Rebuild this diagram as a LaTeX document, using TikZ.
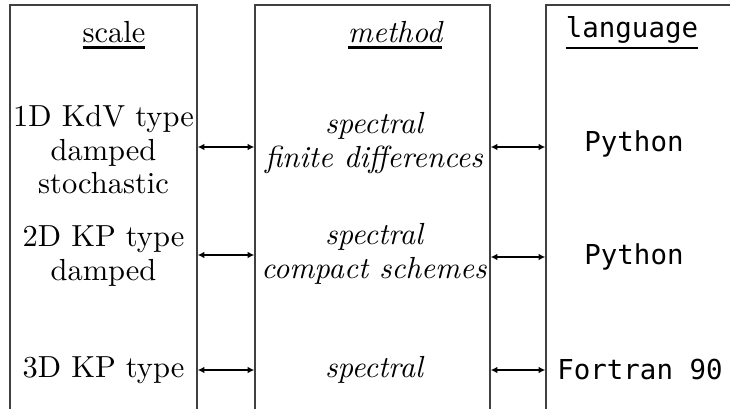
\documentclass[tikz,border=0pt]{standalone}
\usepackage{fontspec}
\newfontfamily\monof{DejaVu Sans Mono}[Scale=0.9]
\usetikzlibrary{arrows.meta,fit}
\newcommand\thul[1]{\leavevmode\vtop{\hbox{#1}\kern0.9pt\hrule height 0.9pt}}
\tikzset{
  colbox/.style={draw=black!75, line width=0.45pt, inner sep=0pt, fill=none},
  txt/.style={align=center, inner sep=0pt, font=\fontsize{10}{11}\selectfont},
  mono/.style={align=center, inner sep=0pt, font=\monof},
  arr/.style={{Latex[length=2.2pt,width=2.2pt]}-{Latex[length=2.2pt,width=2.2pt]}, line width=0.5pt}
}
\begin{document}
\begin{tikzpicture}[x=0.328pt,y=-0.328pt]
\useasboundingbox (0,0) rectangle (730,409);
\clip (0,0) rectangle (730,409);
\node[colbox, fit={(10,5) (197,440)}] (L) {};
\node[colbox, fit={(255,5) (490,440)}] (M) {};
\node[colbox, fit={(546,5) (760,440)}] (R) {};
% headers
\node[txt, anchor=base] (hs) at (114,43) {\thul{scale}};
\node[txt, anchor=base] (hm) at (395,43) {\thul{\itshape method}};
\node[mono, anchor=base] (hl) at (632,38) {\thul{language}};
% row 1
\node[txt] (l1) at (103.5,150) {1D KdV type\\damped\\stochastic};
\node[txt, font=\fontsize{10}{11}\selectfont\itshape] (m1) at (374,143) {spectral\\finite differences};
\node[mono] (p1) at (634,144) {Python};
% row 2
\node[txt] (l2) at (103.5,256) {2D KP type\\damped};
\node[txt, font=\fontsize{10}{11}\selectfont\itshape] (m2) at (374,254) {spectral\\compact schemes};
\node[mono] (p2) at (634,257) {Python};
% row 3
\node[txt] (l3) at (103.5,370) {3D KP type};
\node[txt, font=\fontsize{10}{11}\selectfont\itshape] (m3) at (374,370) {spectral};
\node[mono] (p3) at (640,370) {Fortran 90};
% connectors
\coordinate (r1) at (0,147);
\coordinate (r2) at (0,255);
\coordinate (r2b) at (0,257);
\coordinate (r3) at (0,370);
\draw[arr] (L.east |- r1) -- (M.west |- r1);
\draw[arr] (M.east |- r1) -- (R.west |- r1);
\draw[arr] (L.east |- r2) -- (M.west |- r2);
\draw[arr] (M.east |- r2b) -- (R.west |- r2b);
\draw[arr] (L.east |- r3) -- (M.west |- r3);
\draw[arr] (M.east |- r3) -- (R.west |- r3);
\end{tikzpicture}
\end{document}
